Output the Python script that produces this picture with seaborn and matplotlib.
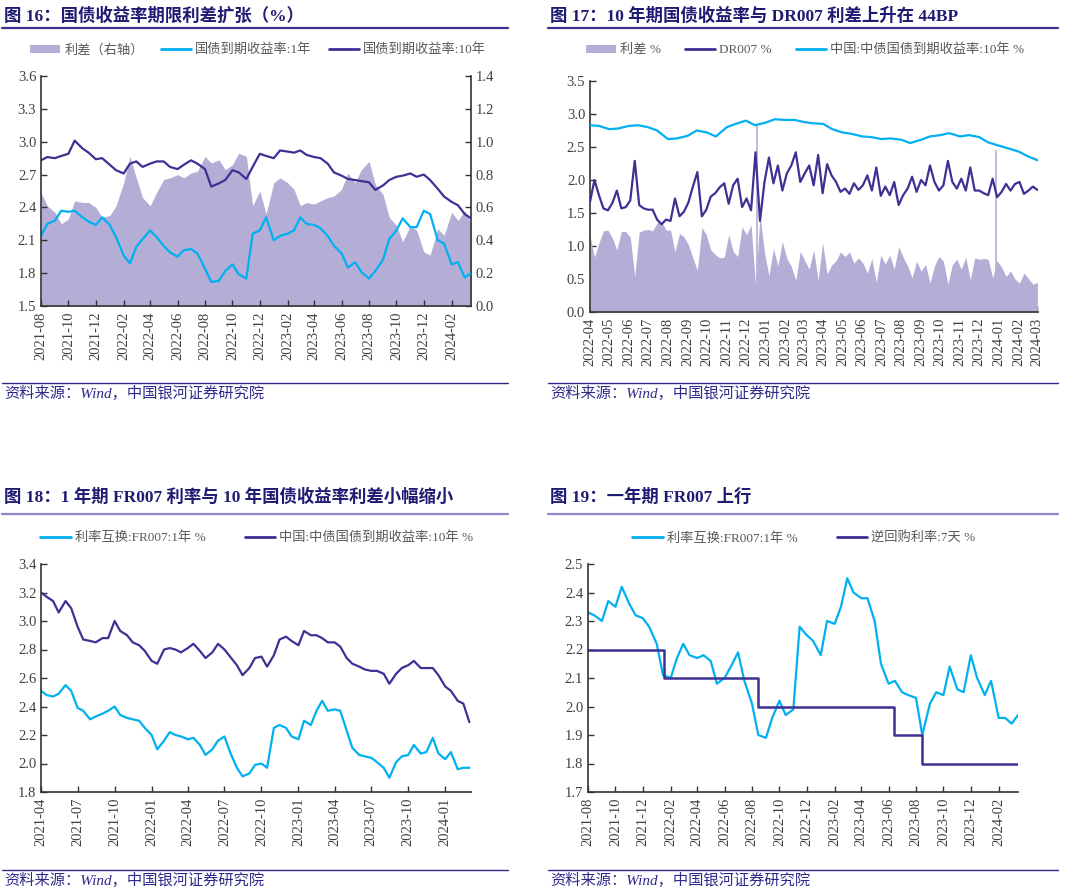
import numpy as np
import pandas as pd
import matplotlib
matplotlib.use('Agg')
import matplotlib.pyplot as plt
import matplotlib.dates as mdates
from matplotlib.lines import Line2D
from matplotlib.patches import Patch
from matplotlib.ticker import FormatStrFormatter
import seaborn as sns

# ---------------- data ----------------
# Fig 16: semi-monthly, 2021-08-01 .. 2024-03-01, plus 2024-03-15
p16_dates = list(pd.date_range('2021-08-01', '2024-03-01', freq='SMS')) + [pd.Timestamp('2024-03-15')]
p16_cgb10 = [2.83, 2.86, 2.85, 2.87, 2.89, 3.01, 2.94, 2.90, 2.84, 2.85,
             2.79, 2.74, 2.71, 2.80, 2.82, 2.77, 2.80, 2.82, 2.82, 2.77,
             2.75, 2.79, 2.83, 2.80, 2.75, 2.59, 2.62, 2.65, 2.74, 2.72,
             2.66, 2.77, 2.89, 2.87, 2.85, 2.92, 2.91, 2.90, 2.92, 2.88,
             2.86, 2.85, 2.80, 2.72, 2.69, 2.66, 2.65, 2.64, 2.63, 2.56,
             2.60, 2.65, 2.68, 2.69, 2.71, 2.68, 2.70, 2.65, 2.57, 2.50,
             2.45, 2.42, 2.34, 2.30]
p16_cgb1 = [2.14, 2.25, 2.28, 2.37, 2.36, 2.37, 2.31, 2.27, 2.24, 2.31,
            2.24, 2.13, 1.96, 1.89, 2.04, 2.11, 2.19, 2.13, 2.05, 1.99,
            1.95, 2.01, 2.02, 1.98, 1.84, 1.72, 1.73, 1.82, 1.88, 1.79,
            1.75, 2.16, 2.19, 2.31, 2.10, 2.14, 2.16, 2.19, 2.31, 2.25,
            2.24, 2.21, 2.14, 2.05, 1.98, 1.85, 1.90, 1.81, 1.75, 1.82,
            1.92, 2.11, 2.19, 2.30, 2.22, 2.22, 2.37, 2.34, 2.10, 2.07,
            1.88, 1.90, 1.76, 1.80]
p16_spread = [0.69, 0.61, 0.57, 0.50, 0.53, 0.64, 0.63, 0.63, 0.60, 0.54,
              0.55, 0.61, 0.75, 0.91, 0.78, 0.66, 0.61, 0.69, 0.77, 0.78,
              0.80, 0.78, 0.81, 0.82, 0.91, 0.87, 0.89, 0.83, 0.86, 0.93,
              0.91, 0.61, 0.70, 0.56, 0.75, 0.78, 0.75, 0.71, 0.61, 0.63,
              0.62, 0.64, 0.66, 0.67, 0.71, 0.81, 0.75, 0.83, 0.88, 0.74,
              0.68, 0.54, 0.49, 0.39, 0.49, 0.46, 0.33, 0.31, 0.47, 0.43,
              0.57, 0.52, 0.58, 0.50]

# Fig 17
p17_cgb_dates = pd.date_range('2022-04-01', '2024-03-01', freq='SMS')
p17_cgb10 = [2.83, 2.82, 2.77, 2.78, 2.82, 2.83, 2.80, 2.75, 2.62, 2.63,
             2.67, 2.75, 2.72, 2.66, 2.80, 2.85, 2.90, 2.83, 2.87, 2.92,
             2.91, 2.91, 2.88, 2.86, 2.85, 2.77, 2.72, 2.70, 2.66, 2.65,
             2.62, 2.63, 2.61, 2.56, 2.61, 2.66, 2.68, 2.71, 2.66, 2.68,
             2.65, 2.57, 2.52, 2.48, 2.43, 2.36, 2.30]
p17_wk_dates = pd.date_range('2022-04-01', periods=101, freq='7D')
p17_dr007 = [1.67, 2.00, 1.77, 1.57, 1.54, 1.65, 1.84, 1.57, 1.59, 1.69,
             2.29, 1.62, 1.57, 1.55, 1.55, 1.40, 1.33, 1.40, 1.38, 1.72,
             1.45, 1.52, 1.66, 1.90, 2.12, 1.45, 1.55, 1.75, 1.80, 1.89,
             1.95, 1.64, 1.92, 2.02, 1.59, 1.72, 1.54, 2.42, 1.38, 1.97,
             2.34, 1.95, 2.22, 1.84, 2.10, 2.22, 2.42, 1.97, 2.10, 2.22,
             1.92, 2.38, 1.80, 2.24, 2.07, 1.97, 1.82, 1.87, 1.79, 1.95,
             1.85, 1.92, 2.07, 1.84, 2.19, 1.76, 1.90, 1.77, 1.97, 1.62,
             1.77, 1.87, 2.05, 1.82, 2.00, 1.92, 2.22, 1.97, 1.84, 1.92,
             2.29, 1.97, 1.87, 2.02, 1.84, 2.19, 1.84, 1.84, 1.80, 1.77,
             2.02, 1.74, 1.82, 1.94, 1.84, 1.94, 1.97, 1.79, 1.84, 1.90,
             1.85]
p17_spread = [1.16, 0.83, 1.05, 1.23, 1.24, 1.12, 0.94, 1.22, 1.22, 1.13,
              0.54, 1.21, 1.24, 1.25, 1.23, 1.35, 1.37, 1.24, 1.24, 0.91,
              1.19, 1.14, 1.02, 0.82, 0.63, 1.28, 1.17, 0.94, 0.87, 0.82,
              0.83, 1.17, 0.92, 0.84, 1.29, 1.17, 1.32, 0.41, 1.47, 0.90,
              0.55, 0.96, 0.70, 1.07, 0.81, 0.69, 0.48, 0.92, 0.78, 0.65,
              0.94, 0.48, 1.05, 0.58, 0.71, 0.78, 0.91, 0.84, 0.91, 0.74,
              0.82, 0.74, 0.59, 0.81, 0.45, 0.86, 0.73, 0.86, 0.65, 0.99,
              0.83, 0.70, 0.52, 0.77, 0.62, 0.72, 0.44, 0.70, 0.84, 0.77,
              0.42, 0.72, 0.80, 0.65, 0.83, 0.49, 0.82, 0.80, 0.81, 0.80,
              0.52, 0.78, 0.68, 0.54, 0.62, 0.50, 0.44, 0.59, 0.51, 0.42,
              0.45]
p17_spike_dates = ['2022-12-19', '2023-12-27']
p17_spike_vals = [2.85, 2.45]

# Fig 18
p18_dates = pd.date_range('2021-04-01', '2024-03-01', freq='SMS')
p18_fr007 = [2.51, 2.48, 2.47, 2.49, 2.55, 2.51, 2.39, 2.37, 2.31, 2.33,
             2.35, 2.37, 2.40, 2.34, 2.32, 2.31, 2.30, 2.25, 2.20, 2.10,
             2.16, 2.22, 2.20, 2.19, 2.17, 2.18, 2.13, 2.06, 2.10, 2.16,
             2.19, 2.08, 1.97, 1.91, 1.93, 1.99, 2.00, 1.97, 2.25, 2.27,
             2.25, 2.19, 2.17, 2.30, 2.27, 2.37, 2.44, 2.37, 2.38, 2.37,
             2.23, 2.11, 2.06, 2.05, 2.04, 2.01, 1.97, 1.90, 2.01, 2.05,
             2.06, 2.13, 2.07, 2.08, 2.18, 2.07, 2.03, 2.08, 1.96, 1.97,
             1.97]
p18_cgb10 = [3.20, 3.17, 3.14, 3.06, 3.14, 3.09, 2.96, 2.87, 2.86, 2.85,
             2.88, 2.88, 3.00, 2.93, 2.90, 2.85, 2.83, 2.79, 2.72, 2.70,
             2.80, 2.81, 2.80, 2.78, 2.81, 2.84, 2.79, 2.74, 2.78, 2.84,
             2.80, 2.75, 2.69, 2.62, 2.67, 2.74, 2.75, 2.68, 2.76, 2.87,
             2.89, 2.86, 2.83, 2.93, 2.90, 2.90, 2.88, 2.85, 2.85, 2.82,
             2.74, 2.70, 2.68, 2.66, 2.65, 2.65, 2.63, 2.56, 2.63, 2.67,
             2.69, 2.72, 2.67, 2.67, 2.67, 2.62, 2.54, 2.51, 2.44, 2.42,
             2.29]

# Fig 19
p19_dates = list(pd.date_range('2021-08-01', '2024-03-01', freq='SMS')) + [pd.Timestamp('2024-03-15')]
p19_fr007 = [2.33, 2.32, 2.30, 2.37, 2.35, 2.42, 2.36, 2.32, 2.31, 2.28,
             2.22, 2.11, 2.10, 2.17, 2.22, 2.18, 2.17, 2.18, 2.16, 2.08,
             2.10, 2.14, 2.19, 2.09, 2.01, 1.90, 1.89, 1.96, 2.02, 1.97,
             1.99, 2.28, 2.25, 2.23, 2.18, 2.30, 2.29, 2.35, 2.45, 2.40,
             2.38, 2.38, 2.30, 2.15, 2.08, 2.09, 2.05, 2.04, 2.03, 1.90,
             2.01, 2.05, 2.04, 2.14, 2.06, 2.05, 2.18, 2.10, 2.04, 2.09,
             1.96, 1.96, 1.94, 1.97]
p19_rr_dates = ['2021-08-01', '2022-01-17', '2022-08-15', '2023-06-13', '2023-08-15', '2024-03-15']
p19_rr_vals = [2.2, 2.1, 2.0, 1.9, 1.8, 1.8]

titles = ['图 16：国债收益率期限利差扩张（%）',
          '图 17：10 年期国债收益率与 DR007 利差上升在 44BP',
          '图 18：1 年期 FR007 利率与 10 年国债收益率利差小幅缩小',
          '图 19：一年期 FR007 上行']
source = '资料来源：Wind，中国银河证券研究院'

# ---------------- style ----------------
sns.set_style('ticks')
FONT = ['Liberation Serif', 'Noto Sans CJK SC']
plt.rcParams['font.family'] = FONT
plt.rcParams['axes.unicode_minus'] = False

CYAN = '#00B0F0'
DARK = '#3D3193'
FILL = '#B4AED6'
TITLE = '#1F1A72'
NAVY = '#2E2A8C'
AXC = '#333333'
TXT = '#404040'

W, H = 1080, 896
fig = plt.figure(figsize=(10.8, 8.96), dpi=100)
fig.patch.set_facecolor('white')


def make_ax(l, t, r, b):
    return fig.add_axes([l / W, 1 - b / H, (r - l) / W, (b - t) / H])


def style(ax, ymin, ymax, step, xlim, xticks):
    ax.set_ylim(ymin, ymax)
    ax.set_yticks(np.round(np.arange(ymin, ymax + step / 2, step), 2))
    ax.yaxis.set_major_formatter(FormatStrFormatter('%.1f'))
    ax.set_xlim(pd.Timestamp(xlim[0]), pd.Timestamp(xlim[1]))
    ax.set_xticks(xticks)
    ax.xaxis.set_major_formatter(mdates.DateFormatter('%Y-%m'))
    ax.tick_params(axis='both', direction='in', length=4, width=1, colors=AXC,
                   labelsize=10.5, labelcolor=TXT)
    ax.tick_params(axis='x', labelrotation=90, pad=4)
    for s in ['top', 'right']:
        ax.spines[s].set_visible(False)
    for s in ['left', 'bottom']:
        ax.spines[s].set_color(AXC)
        ax.spines[s].set_linewidth(1.2)
    ax.set_xlabel('')
    ax.set_ylabel('')


def deco(x0, x1, title_y, line_y, src_line_y, src_y, title, line_color):
    fig.text((x0 + 2) / W, 1 - title_y / H, title, fontsize=12.5, fontweight='bold',
             color=TITLE, ha='left', va='center')
    fig.add_artist(Line2D([x0 / W, x1 / W], [1 - line_y / H] * 2, color=line_color,
                          lw=1.6, transform=fig.transFigure))
    fig.add_artist(Line2D([x0 / W, x1 / W], [1 - src_line_y / H] * 2, color=NAVY,
                          lw=1.0, transform=fig.transFigure))
    fig.text((x0 + 2) / W, 1 - src_y / H, source, fontsize=11, style='italic',
             color=NAVY, ha='left', va='center')


h_fill = Patch(facecolor=FILL, edgecolor='none')
h_cyan = Line2D([], [], color=CYAN, lw=2)
h_dark = Line2D([], [], color=DARK, lw=2)


def legend(ax, handles, labels, cx, cy, colsp):
    ax.legend(handles, labels, loc='center', bbox_to_anchor=(cx / W, 1 - cy / H),
              bbox_transform=fig.transFigure, ncol=len(handles), frameon=False,
              fontsize=9.5, handlelength=2.3, handleheight=0.55, handletextpad=0.3,
              columnspacing=colsp, labelcolor='#595959')


# ---------------- Fig 16 ----------------
ax16 = make_ax(41, 76, 471, 306)
ax16b = ax16.twinx()
ax16b.fill_between(p16_dates, 0, p16_spread, color=FILL, lw=0)
ax16b.set_ylim(0, 1.4)
ax16b.set_yticks(np.round(np.arange(0, 1.41, 0.2), 2))
ax16b.yaxis.set_major_formatter(FormatStrFormatter('%.1f'))
ax16b.tick_params(axis='y', direction='in', length=4, width=1, colors=AXC,
                  labelsize=10.5, labelcolor=TXT)
for s in ['top', 'left', 'bottom']:
    ax16b.spines[s].set_visible(False)
ax16b.spines['right'].set_color(AXC)
ax16b.spines['right'].set_linewidth(1.2)
ax16.set_zorder(ax16b.get_zorder() + 1)
ax16.patch.set_visible(False)
sns.lineplot(x=p16_dates, y=p16_cgb1, ax=ax16, color=CYAN, lw=1.6)
sns.lineplot(x=p16_dates, y=p16_cgb10, ax=ax16, color=DARK, lw=1.6)
style(ax16, 1.5, 3.6, 0.3, ('2021-08-01', '2024-03-15'),
      pd.date_range('2021-08-01', '2024-02-01', freq='2MS'))
legend(ax16, [h_fill, h_cyan, h_dark], ['利差（右轴）', '国债到期收益率:1年', '国债到期收益率:10年'],
       258, 50, 1.3)
deco(2, 508, 16, 28, 383, 393, titles[0], '#3B3290')

# ---------------- Fig 17 ----------------
ax17 = make_ax(590, 81, 1038, 312)
ax17.fill_between(p17_wk_dates, 0, p17_spread, color=FILL, lw=0, zorder=1)
ax17.vlines(pd.to_datetime(p17_spike_dates), 0, p17_spike_vals, color=FILL, lw=1.2, zorder=1)
sns.lineplot(x=p17_wk_dates, y=p17_dr007, ax=ax17, color=DARK, lw=1.6, zorder=3)
sns.lineplot(x=p17_cgb_dates, y=p17_cgb10, ax=ax17, color=CYAN, lw=1.6, zorder=3)
style(ax17, 0.0, 3.5, 0.5, ('2022-04-01', '2024-03-02'),
      pd.date_range('2022-04-01', '2024-03-01', freq='MS'))
legend(ax17, [h_fill, h_dark, h_cyan], ['利差 %', 'DR007 %', '中国:中债国债到期收益率:10年 %'],
       805, 50, 1.8)
deco(548, 1058, 16, 28, 383, 393, titles[1], '#3B3290')

# ---------------- Fig 18 ----------------
ax18 = make_ax(41, 564, 471, 792)
sns.lineplot(x=p18_dates, y=p18_fr007, ax=ax18, color=CYAN, lw=1.6)
sns.lineplot(x=p18_dates, y=p18_cgb10, ax=ax18, color=DARK, lw=1.6)
style(ax18, 1.8, 3.4, 0.2, ('2021-04-01', '2024-03-05'),
      pd.date_range('2021-04-01', '2024-01-01', freq='3MS'))
legend(ax18, [h_cyan, h_dark], ['利率互换:FR007:1年 %', '中国:中债国债到期收益率:10年 %'],
       257, 538, 3.0)
deco(2, 508, 497, 514, 870, 880, titles[2], '#8F86C9')

# ---------------- Fig 19 ----------------
ax19 = make_ax(588, 564, 1018, 792)
sns.lineplot(x=p19_dates, y=p19_fr007, ax=ax19, color=CYAN, lw=1.6)
sns.lineplot(x=pd.to_datetime(p19_rr_dates), y=p19_rr_vals, ax=ax19, color=DARK, lw=1.8,
             drawstyle='steps-post')
style(ax19, 1.7, 2.5, 0.1, ('2021-08-01', '2024-03-15'),
      pd.date_range('2021-08-01', '2024-02-01', freq='2MS'))
legend(ax19, [h_cyan, h_dark], ['利率互换:FR007:1年 %', '逆回购利率:7天 %'],
       804, 538, 3.0)
deco(548, 1058, 497, 514, 870, 880, titles[3], '#8F86C9')

fig.savefig('out.png', dpi=100, facecolor='white')
